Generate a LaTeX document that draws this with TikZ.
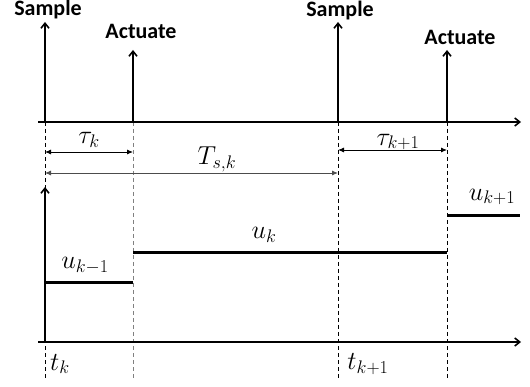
\RequirePackage{fix-cm}
\documentclass[tikz,border=0pt]{standalone}
\usepackage{fontspec}
\newfontfamily\lblfont{Carlito}
\usetikzlibrary{arrows.meta}
\tikzset{
  evt/.style={line width=1.6pt,-{Straight Barb[length=5pt,width=8pt]}},
  axisline/.style={line width=1.6pt,-{Straight Barb[length=5pt,width=8pt]}},
  guide/.style={line width=0.8pt,dash pattern=on 4pt off 3pt},
  guidegray/.style={guide,gray},
  dim/.style={line width=0.9pt,{Latex[length=6pt,width=5pt]}-{Latex[length=6pt,width=5pt]}},
  level/.style={line width=3pt},
  evtlbl/.style={font=\lblfont\bfseries\fontsize{22}{26}\selectfont,inner sep=0pt},
  mlbl/.style={font=\fontsize{26}{30}\selectfont,inner sep=0pt}
}
\begin{document}
\begin{tikzpicture}[x=1pt,y=-1pt]
\useasboundingbox (0,0) rectangle (530,387);
% coordinates
\coordinate (s1b) at (45,122); \coordinate (s1t) at (45,22);
\coordinate (a1b) at (133,122); \coordinate (a1t) at (133,50);
\coordinate (s2b) at (338,122); \coordinate (s2t) at (338,22);
\coordinate (a2b) at (447,122); \coordinate (a2t) at (447,50);
\coordinate (ax0) at (38,122); \coordinate (ax1) at (521,122);
\coordinate (g1) at (45,378); \coordinate (g2) at (133,378);
\coordinate (g3) at (338,378); \coordinate (g4) at (447,378);
% guides
\draw[guide] (s1b) -- (g1);
\draw[guidegray] (a1b) -- (g2);
\draw[guide] (s2b) -- (g3);
\draw[guide] (a2b) -- (g4);
% top axis and events
\draw[axisline] (ax0) -- (ax1);
\draw[evt] (s1b) -- (s1t);
\draw[evt] (a1b) -- (a1t);
\draw[evt] (s2b) -- (s2t);
\draw[evt] (a2b) -- (a2t);
\node[evtlbl] (ls1) at (48,10) {Sample};
\node[evtlbl] (la1) at (141,31) {Actuate};
\node[evtlbl] (ls2) at (340,11) {Sample};
\node[evtlbl] (la2) at (460,37) {Actuate};
% dimensions
\coordinate (d1a) at (45,152); \coordinate (d1b) at (133,152);
\coordinate (d2a) at (45,173); \coordinate (d2b) at (338,173);
\coordinate (d3a) at (338,150); \coordinate (d3b) at (447,150);
\draw[dim] (d1a) -- (d1b);
\draw[dim,draw=black!70] (d2a) -- (d2b);
\draw[dim] (d3a) -- (d3b);
\node[mlbl] (tk) at (89,140) {$\tau_k$};
\node[mlbl] (Tsk) at (217,159) {$T_{s,k}$};
\node[mlbl] (tk1) at (398,142) {$\tau_{k+1}$};
% bottom plot
\coordinate (v0) at (45,342); \coordinate (v1) at (45,187);
\coordinate (h0) at (38,342); \coordinate (h1) at (521,342);
\draw[axisline] (v0) -- (v1);
\draw[axisline] (h0) -- (h1);
\coordinate (u0a) at (45,283); \coordinate (u0b) at (133,283);
\coordinate (u1a) at (133,253); \coordinate (u1b) at (447,253);
\coordinate (u2a) at (447,216); \coordinate (u2b) at (520,216);
\draw[level] (u0a) -- (u0b);
\draw[level] (u1a) -- (u1b);
\draw[level] (u2a) -- (u2b);
\node[mlbl] (lu0) at (85,266) {$u_{k-1}$};
\node[mlbl] (lu1) at (264,235) {$u_k$};
\node[mlbl] (lu2) at (492,197) {$u_{k+1}$};
\node[mlbl] (ltk) at (60,364) {$t_k$};
\node[mlbl] (ltk1) at (368,364) {$t_{k+1}$};
\end{tikzpicture}
\end{document}
